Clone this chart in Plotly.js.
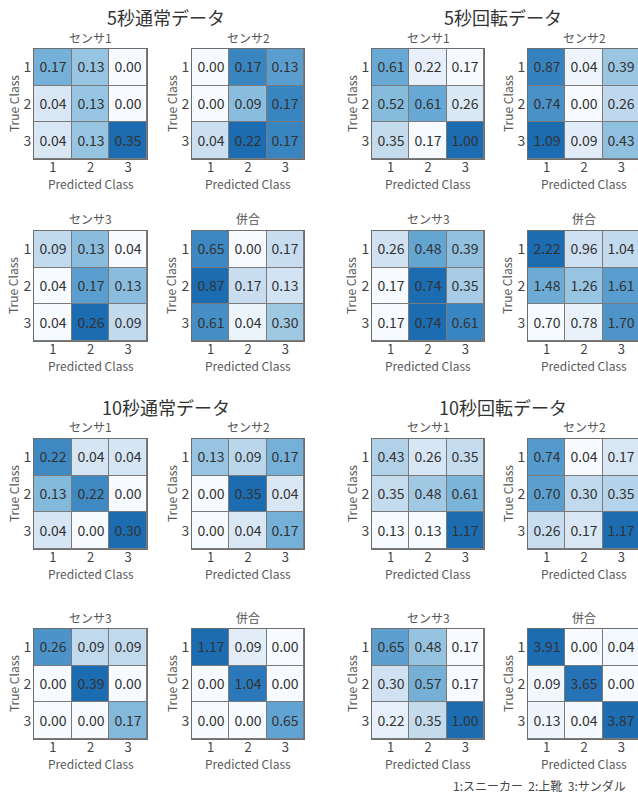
<!DOCTYPE html>
<html>
<head>
<meta charset="utf-8">
<script src="https://cdn.plot.ly/plotly-3.0.1.min.js"></script>
<style>
html,body{margin:0;padding:0;overflow:hidden;background:#fff;}
#chart{width:650px;height:794px;}
</style>
</head>
<body>
<div id="chart"></div>
<script>
// ---- data ----
const classLabels = ["1", "2", "3"];
const groupTitles = ["5秒通常データ", "5秒回転データ", "10秒通常データ", "10秒回転データ"];
const panelTitles = ["センサ1", "センサ2", "センサ3", "併合"];
const xAxisTitle = "Predicted Class";
const yAxisTitle = "True Class";
const legendNote = "1:スニーカー  2:上靴  3:サンダル";

const s5n_1 = [[0.17,0.13,0.00],[0.04,0.13,0.00],[0.04,0.13,0.35]];
const s5n_2 = [[0.00,0.17,0.13],[0.00,0.09,0.17],[0.04,0.22,0.17]];
const s5n_3 = [[0.09,0.13,0.04],[0.04,0.17,0.13],[0.04,0.26,0.09]];
const s5n_c = [[0.65,0.00,0.17],[0.87,0.17,0.13],[0.61,0.04,0.30]];

const s5r_1 = [[0.61,0.22,0.17],[0.52,0.61,0.26],[0.35,0.17,1.00]];
const s5r_2 = [[0.87,0.04,0.39],[0.74,0.00,0.26],[1.09,0.09,0.43]];
const s5r_3 = [[0.26,0.48,0.39],[0.17,0.74,0.35],[0.17,0.74,0.61]];
const s5r_c = [[2.22,0.96,1.04],[1.48,1.26,1.61],[0.70,0.78,1.70]];

const s10n_1 = [[0.22,0.04,0.04],[0.13,0.22,0.00],[0.04,0.00,0.30]];
const s10n_2 = [[0.13,0.09,0.17],[0.00,0.35,0.04],[0.00,0.04,0.17]];
const s10n_3 = [[0.26,0.09,0.09],[0.00,0.39,0.00],[0.00,0.00,0.17]];
const s10n_c = [[1.17,0.09,0.00],[0.00,1.04,0.00],[0.00,0.00,0.65]];

const s10r_1 = [[0.43,0.26,0.35],[0.35,0.48,0.61],[0.13,0.13,1.17]];
const s10r_2 = [[0.74,0.04,0.17],[0.70,0.30,0.35],[0.26,0.17,1.17]];
const s10r_3 = [[0.65,0.48,0.17],[0.30,0.57,0.17],[0.22,0.35,1.00]];
const s10r_c = [[3.91,0.00,0.04],[0.09,3.65,0.00],[0.13,0.04,3.87]];

const groups = [
  [s5n_1, s5n_2, s5n_3, s5n_c],
  [s5r_1, s5r_2, s5r_3, s5r_c],
  [s10n_1, s10n_2, s10n_3, s10n_c],
  [s10r_1, s10r_2, s10r_3, s10r_c]
];

// ---- layout geometry (pixels) ----
const W = 650, H = 794;
const colsPx = [[34,147],[192,304],[372,484],[528,640]];
const rowsPx = [[49,159],[231,341],[439,549],[629,739]];
const FONT = "Noto Sans CJK JP, Noto Sans, sans-serif";

const blues = [
  [0.0, "#f7fbff"],
  [0.1, "#dce9f6"],
  [0.25, "#bdd7ec"],
  [0.4, "#8dbfde"],
  [0.55, "#62a4d2"],
  [0.75, "#3c87c2"],
  [1.0, "#1c6cb1"]
];

const traces = [];
const layout = {
  width: W, height: H,
  margin: {l:0, r:0, t:0, b:0},
  paper_bgcolor: "#ffffff",
  plot_bgcolor: "#7a7a7a",
  font: {family: FONT, color: "#444"},
  showlegend: false,
  annotations: []
};

function ann(text, xpx, ypx, size, color, extra) {
  return Object.assign({
    text: text, xref: "paper", yref: "paper",
    x: xpx / W, y: 1 - ypx / H,
    xanchor: "center", yanchor: "middle", showarrow: false,
    font: {family: FONT, size: size, color: color}
  }, extra || {});
}

let idx = 0;
groups.forEach((mats, g) => {
  const c0 = (g % 2) * 2;
  const r0 = Math.floor(g / 2) * 2;
  mats.forEach((z, p) => {
    idx++;
    const col = colsPx[c0 + (p % 2)];
    const row = rowsPx[r0 + Math.floor(p / 2)];
    const sfx = idx === 1 ? "" : String(idx);
    traces.push({
      type: "heatmap",
      z: z, x: classLabels, y: classLabels,
      xaxis: "x" + sfx, yaxis: "y" + sfx,
      colorscale: blues, showscale: false,
      xgap: 1, ygap: 1,
      texttemplate: "%{z:.2f}",
      textfont: {family: FONT, size: 14, color: "#333"},
      hoverinfo: "skip"
    });
    layout["xaxis" + sfx] = {
      domain: [col[0]/W, col[1]/W],
      anchor: "y" + sfx, type: "category",
      showgrid: false, zeroline: false,
      showline: true, mirror: true, linecolor: "#6e6e6e", linewidth: 1,
      ticks: "", tickfont: {size: 13, color: "#444"}, ticklabelstandoff: -4,
      fixedrange: true, automargin: false
    };
    layout["yaxis" + sfx] = {
      domain: [1 - row[1]/H, 1 - row[0]/H],
      anchor: "x" + sfx, type: "category", autorange: "reversed",
      showgrid: false, zeroline: false,
      showline: true, mirror: true, linecolor: "#6e6e6e", linewidth: 1,
      ticks: "", tickfont: {size: 14, color: "#444"}, ticklabelstandoff: -1,
      fixedrange: true, automargin: false
    };
    const cx = (col[0] + col[1]) / 2;
    const cy = (row[0] + row[1]) / 2;
    layout.annotations.push(ann(panelTitles[p], cx, row[0] - 12, 12, "#555"));
    layout.annotations.push(ann(xAxisTitle, cx, row[1] + 24, 12, "#5a5a5a"));
    layout.annotations.push(ann(yAxisTitle, col[0] - 21, cy, 12, "#5a5a5a", {textangle: -90}));
  });
  const cA = colsPx[c0], cB = colsPx[c0 + 1];
  const rT = rowsPx[r0];
  layout.annotations.push(ann(groupTitles[g], (cA[0] + cB[1]) / 2 - 3, rT[0] - 32, 18, "#333"));
});

layout.annotations.push(ann(legendNote, 628, 785, 12, "#444", {xanchor: "right"}));

Plotly.newPlot("chart", traces, layout, {staticPlot: true, displayModeBar: false});
</script>
</body>
</html>
